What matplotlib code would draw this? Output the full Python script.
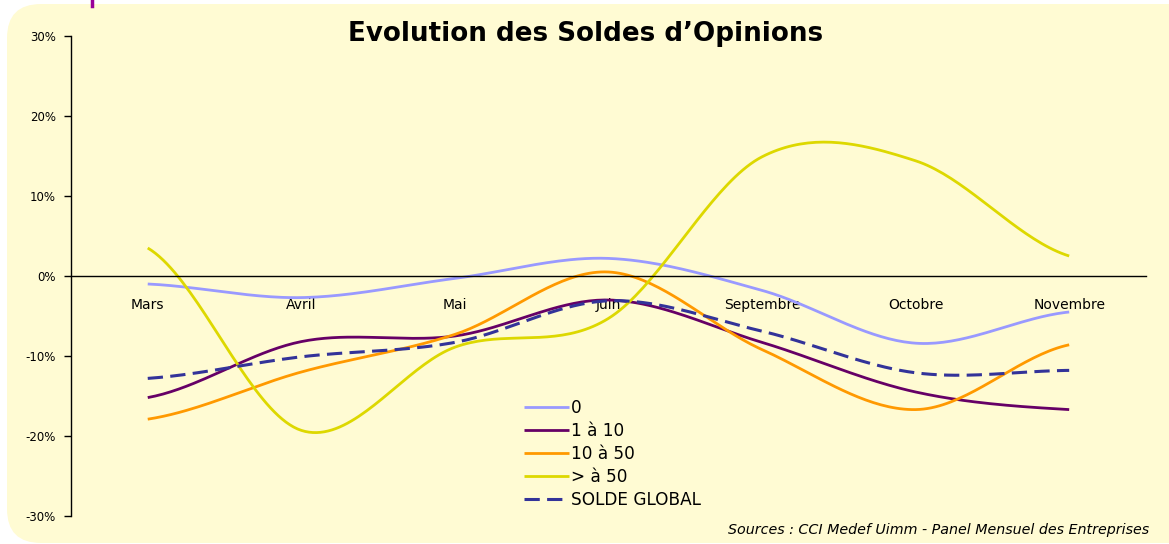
import matplotlib
matplotlib.use('Agg')
import matplotlib.pyplot as plt
import numpy as np
from matplotlib.patches import FancyBboxPatch
from matplotlib.lines import Line2D

mois = ['Mars', 'Avril', 'Mai', 'Juin', 'Septembre', 'Octobre', 'Novembre']

# soldes d'opinions en %
solde_0 = [-1.0, -2.7, -0.3, 2.2, -1.8, -8.4, -4.5]
solde_1_10 = [-15.2, -8.2, -7.5, -3.0, -8.3, -14.5, -16.7]
solde_10_50 = [-17.9, -12.0, -7.3, 0.5, -9.2, -16.7, -8.6]
solde_50 = [3.5, -19.3, -8.9, -5.3, 14.9, 14.4, 2.5]
solde_global = [-12.8, -10.1, -8.3, -3.1, -6.9, -12.1, -11.8]


def lisse(y, n=40):
    # courbe lissee type Excel (Catmull-Rom)
    y = np.asarray(y, dtype=float)
    p = np.concatenate([[y[0]], y, [y[-1]]])
    xs, ys = [], []
    for i in range(len(y) - 1):
        t = np.linspace(0, 1, n, endpoint=(i == len(y) - 2))
        m0 = (p[i + 2] - p[i]) / 2
        m1 = (p[i + 3] - p[i + 1]) / 2
        h00 = 2 * t**3 - 3 * t**2 + 1
        h10 = t**3 - 2 * t**2 + t
        h01 = -2 * t**3 + 3 * t**2
        h11 = t**3 - t**2
        xs.append(i + t)
        ys.append(h00 * y[i] + h10 * m0 + h01 * y[i + 1] + h11 * m1)
    return np.concatenate(xs), np.concatenate(ys)


fig = plt.figure(figsize=(11.69, 5.44), dpi=100)
fig.patch.set_facecolor('white')

# cadre jaune arrondi (coordonnees en pixels)
fond = FancyBboxPatch((7, 1), 1250, 539, boxstyle='round,pad=0,rounding_size=34',
                      transform=None, facecolor='#FFFBD3', edgecolor='none', zorder=-5)
fig.patches.append(fond)
fig.add_artist(Line2D([0.0784, 0.0784], [0.989, 1.0], color='#990099', lw=2.5,
                      transform=fig.transFigure))

ax = fig.add_axes([0.0607, 0.0515, 0.9196, 0.8823])
ax.set_facecolor('none')
ax.set_zorder(2)

series = [
    (solde_0, '0', '#9999FF'),
    (solde_1_10, '1 à 10', '#660066'),
    (solde_10_50, '10 à 50', '#FF9900'),
    (solde_50, '> à 50', '#DDD800'),
]
for vals, lab, col in series:
    xx, yy = lisse(vals)
    ax.plot(xx, yy, color=col, lw=2.0, label=lab, solid_capstyle='butt')

xx, yy = lisse(solde_global)
ax.plot(xx, yy, color='#333399', lw=2.2, dashes=(5, 2.4), label='SOLDE GLOBAL')

ax.set_xlim(-0.5, len(mois) - 0.5)
ax.set_ylim(-30, 30)
ax.set_yticks([-30, -20, -10, 0, 10, 20, 30])
ax.set_yticklabels(['-30%', '-20%', '-10%', '0%', '10%', '20%', '30%'], fontsize=8.5)
ax.set_xticks(range(len(mois)))
ax.set_xticklabels(mois, fontsize=8.5)
ax.tick_params(axis='x', length=0, pad=16)
ax.tick_params(axis='y', length=5, width=1, direction='out', pad=6)

ax.spines['top'].set_visible(False)
ax.spines['right'].set_visible(False)
ax.spines['bottom'].set_position(('data', 0))
ax.spines['bottom'].set_linewidth(1)
ax.spines['left'].set_linewidth(1)

fig.text(0.501, 0.938, 'Evolution des Soldes d\u2019Opinions', ha='center', va='center',
         fontsize=18.8, fontweight='bold')

leg = ax.legend(loc='upper left', bbox_to_anchor=(0.414, 0.262), frameon=False,
                fontsize=12.2, handlelength=2.6, handletextpad=0.15, labelspacing=0.3,
                borderpad=0)

fig.text(0.983, 0.026, 'Sources : CCI Medef Uimm - Panel Mensuel des Entreprises',
         ha='right', va='center', fontsize=10.3, style='italic')

plt.savefig('out.png', dpi=100)
